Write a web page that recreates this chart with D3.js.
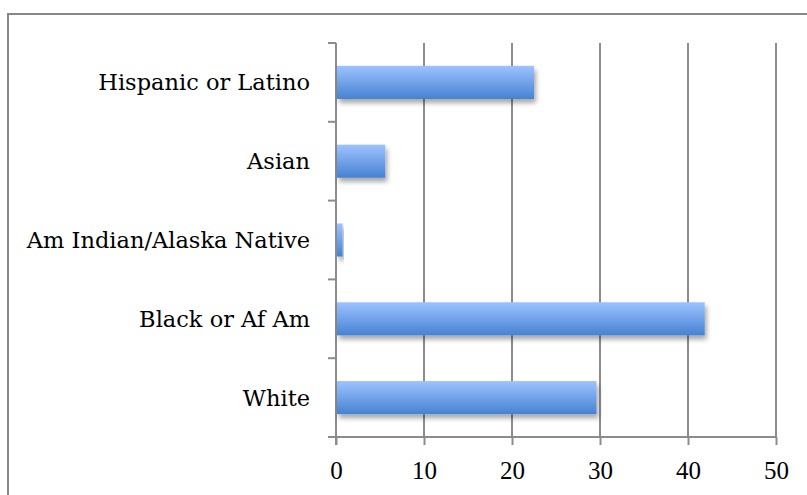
<!DOCTYPE html>
<html><head><meta charset="utf-8">
<script src="https://cdn.jsdelivr.net/npm/d3@7"></script>
<style>html,body{margin:0;padding:0;background:#fff;}svg{display:block;}</style>
</head><body>
<script>
const categories = ["Hispanic or Latino","Asian","Am Indian/Alaska Native","Black or Af Am","White"];
const values = [22.5, 5.6, 0.75, 41.9, 29.6];
const tickValues = [0,10,20,30,40,50];

(function(){
const W = 807, H = 495;
const svg = d3.select("body").append("svg").attr("width", W).attr("height", H);
const defs = svg.append("defs");
const grad = defs.append("linearGradient").attr("id","barGrad").attr("x1",0).attr("y1",0).attr("x2",0).attr("y2",1);
grad.append("stop").attr("offset","0%").attr("stop-color","#9dc3ff");
grad.append("stop").attr("offset","100%").attr("stop-color","#4682d2");
const filt = defs.append("filter").attr("id","shadow").attr("x","-10%").attr("y","-30%").attr("width","130%").attr("height","180%");
filt.append("feGaussianBlur").attr("in","SourceAlpha").attr("stdDeviation",2.5).attr("result","b");
filt.append("feOffset").attr("in","b").attr("dx",2).attr("dy",4).attr("result","o");
filt.append("feComponentTransfer").attr("in","o").attr("result","oa").append("feFuncA").attr("type","linear").attr("slope",0.35);
const fm = filt.append("feMerge");
fm.append("feMergeNode").attr("in","oa");
fm.append("feMergeNode").attr("in","SourceGraphic");

// outer frame
svg.append("rect").attr("x",8).attr("y",14).attr("width",W+20).attr("height",H+20)
  .attr("fill","none").attr("stroke","#888").attr("stroke-width",2);

const pL = 336, pR = 776, pT = 43, pB = 437;
const x = d3.scaleLinear().domain([0,50]).range([pL,pR]);
const y = d3.scaleBand().domain(categories).range([pT,pB]).paddingInner(0.58).paddingOuter(0.29);
const yb = d3.scaleBand().domain(categories).range([pT,pB]);

// gridlines
svg.append("g").selectAll("line").data(tickValues.slice(1)).join("line")
  .attr("x1",d=>x(d)).attr("x2",d=>x(d)).attr("y1",pT).attr("y2",pB)
  .attr("stroke","#8c8c8c").attr("stroke-width",2);

// x axis
const xAxis = d3.axisBottom(x).tickValues(tickValues).tickSize(8).tickPadding(16);
const gx = svg.append("g").attr("transform",`translate(0,${pB})`).call(xAxis);
gx.select(".domain").attr("d",`M${pL-8},0H${pR}`).attr("stroke","#8c8c8c").attr("stroke-width",2);
gx.selectAll(".tick line").attr("stroke","#8c8c8c").attr("stroke-width",2);
gx.selectAll(".tick text").attr("font-family","'Liberation Serif', serif").attr("font-size",25).attr("fill","#000");

// y axis
const yAxisLine = svg.append("g");
yAxisLine.append("line").attr("x1",pL).attr("x2",pL).attr("y1",pT).attr("y2",pB+8)
  .attr("stroke","#8c8c8c").attr("stroke-width",2);
const bounds = categories.map(c=>yb(c));
yAxisLine.selectAll("line.t").data(bounds).join("line").attr("class","t")
  .attr("x1",pL-8).attr("x2",pL).attr("y1",d=>d).attr("y2",d=>d)
  .attr("stroke","#8c8c8c").attr("stroke-width",2);

// labels
svg.append("g").selectAll("text").data(categories).join("text")
  .attr("x",310).attr("y",d=>yb(d)+yb.bandwidth()/2+8)
  .attr("text-anchor","end")
  .attr("font-family","'DejaVu Serif', serif").attr("font-size",22.5).attr("fill","#000")
  .text(d=>d);

// bars
svg.append("g").selectAll("rect").data(categories).join("rect")
  .attr("x",x(0)+1).attr("y",d=>y(d)).attr("height",y.bandwidth())
  .attr("width",(d,i)=>x(values[i])-x(0)-1)
  .attr("fill","url(#barGrad)").attr("filter","url(#shadow)");
})();
</script>
</body></html>
